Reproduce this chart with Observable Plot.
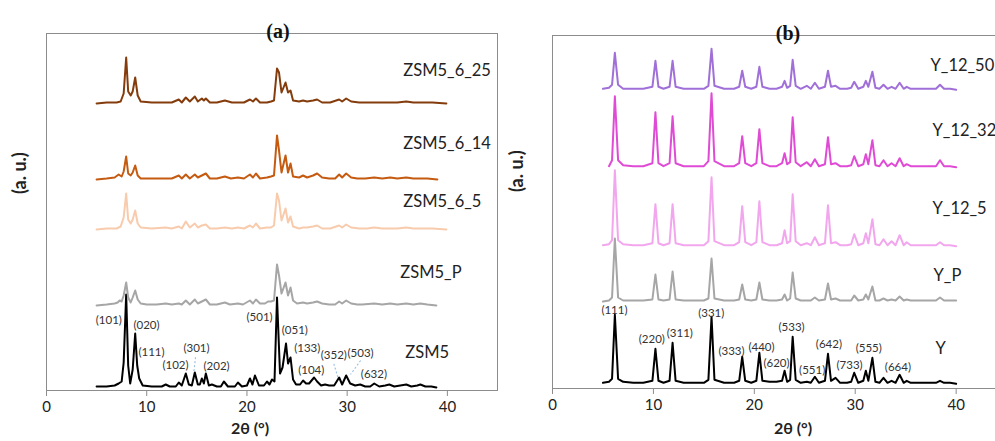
<!DOCTYPE html>
<html><head><meta charset="utf-8">
<script src="https://cdn.jsdelivr.net/npm/d3@7"></script>
<script src="https://cdn.jsdelivr.net/npm/@observablehq/plot@0.6"></script>
<style>
html,body{margin:0;padding:0;background:#fff;}
#wrap{position:relative;width:995px;height:441px;overflow:hidden;background:#fff;}
#wrap svg{position:absolute;top:0;}
</style></head><body><div id="wrap"></div>
<script>
// ---------- Panel (a): ZSM5 family, [2θ, intensity above own baseline] ----------
const zsm5 = [[5.0,1],[6.0,1],[6.8,2],[7.2,4],[7.5,6],[7.7,25],[7.95,93],[8.15,22],[8.35,4],[8.6,18],[8.85,54],[9.05,22],[9.25,9],[9.6,2],[10.5,1],[11.5,1],[11.9,3],[12.3,1],[12.9,1],[13.2,5],[13.5,2],[13.9,14],[14.2,3],[14.5,2],[14.8,15],[15.1,3],[15.3,3],[15.5,9],[15.7,4],[15.9,14],[16.2,2],[16.5,3],[17.0,1],[17.4,1],[17.7,6],[18.1,1],[18.8,1],[19.1,5],[19.5,1],[20.0,2],[20.3,9],[20.55,3],[20.8,12],[21.2,2],[21.7,2],[22.0,6],[22.25,3],[22.5,8],[22.75,6],[23.0,90],[23.3,14],[23.55,20],[23.9,44],[24.1,24],[24.35,30],[24.6,8],[24.9,3],[25.3,3],[25.6,7],[25.9,4],[26.2,4],[26.7,10],[27.0,6],[27.4,2],[27.8,3],[28.2,2],[28.7,2],[29.2,10],[29.5,3],[29.9,12],[30.3,4],[30.8,2],[31.3,3],[31.8,1],[32.3,1],[32.7,4],[33.2,1],[33.8,2],[34.2,3],[34.7,1],[35.3,2],[35.9,3],[36.4,1],[37.0,2],[37.3,3],[37.8,1],[38.4,1],[38.9,0]];
const zsm5P = [[5.0,0],[6.0,1],[6.8,2],[7.1,3],[7.3,5],[7.5,4],[7.7,10],[7.95,23],[8.15,8],[8.4,3],[8.6,8],[8.85,15],[9.1,6],[9.4,2],[10.0,1],[11.0,1],[11.9,2],[12.5,1],[13.2,2],[13.5,1],[13.9,5],[14.3,1],[14.8,6],[15.1,2],[15.5,4],[15.9,6],[16.3,1],[17.0,1],[17.8,3],[18.3,1],[19.1,2],[19.6,1],[20.3,5],[20.6,2],[20.9,6],[21.3,2],[21.8,2],[22.1,4],[22.4,4],[22.7,5],[23.0,41],[23.2,30],[23.45,12],[23.85,23],[24.1,10],[24.35,18],[24.6,5],[25.0,2],[25.6,3],[26.0,2],[26.6,3],[27.0,4],[27.5,2],[28.2,1],[28.8,1],[29.2,4],[29.5,2],[29.9,5],[30.4,2],[31.0,1],[31.5,1],[32.7,2],[33.5,1],[34.3,2],[35.0,1],[35.9,2],[36.6,1],[37.3,2],[38.0,1],[38.9,0]];
const zsm5_6_5 = [[5.0,0],[6.0,1],[7.0,1],[7.4,3],[7.7,12],[7.95,36],[8.15,10],[8.4,6],[8.6,10],[8.85,19],[9.1,6],[9.4,2],[10.5,1],[11.9,2],[12.5,1],[13.2,3],[13.5,1],[13.9,8],[14.3,2],[14.8,6],[15.1,2],[15.5,4],[15.9,5],[16.3,1],[17.0,1],[17.8,2],[18.5,1],[19.1,2],[19.7,1],[20.3,4],[20.6,2],[20.9,6],[21.3,1],[22.0,2],[22.4,2],[22.7,4],[23.0,36],[23.2,29],[23.45,9],[23.85,21],[24.1,7],[24.35,13],[24.6,3],[25.2,1],[25.6,2],[26.0,2],[26.6,3],[27.0,4],[27.5,1],[28.3,1],[29.2,4],[29.5,2],[29.9,5],[30.4,2],[31.2,1],[32.0,1],[32.7,2],[33.5,1],[34.3,1],[35.0,1],[35.9,2],[36.6,1],[37.5,1],[38.5,1],[39.9,0]];
const zsm5_6_14 = [[5.0,0],[6.0,1],[6.8,2],[7.2,5],[7.5,3],[7.7,8],[7.95,23],[8.15,6],[8.4,4],[8.6,7],[8.85,14],[9.1,4],[9.4,1],[10.5,1],[11.9,1],[12.5,1],[13.2,4],[13.5,1],[13.9,5],[14.3,1],[14.8,5],[15.1,2],[15.5,4],[15.9,6],[16.3,1],[17.0,1],[17.8,3],[18.4,1],[19.1,2],[19.7,1],[20.3,5],[20.6,2],[20.9,6],[21.3,1],[22.0,2],[22.4,3],[22.7,4],[23.0,44],[23.2,29],[23.45,7],[23.85,24],[24.1,7],[24.35,16],[24.6,3],[25.2,2],[25.6,4],[26.0,2],[26.6,4],[27.0,6],[27.5,2],[28.2,1],[28.8,1],[29.2,5],[29.5,2],[29.9,6],[30.4,2],[31.0,1],[31.8,1],[32.7,2],[33.5,1],[34.3,2],[35.0,1],[35.9,2],[36.6,1],[37.3,1],[38.0,1],[39.0,0]];
const zsm5_6_25 = [[5.0,0],[6.0,1],[7.0,1],[7.4,2],[7.7,10],[7.95,46],[8.15,12],[8.4,8],[8.6,12],[8.85,26],[9.1,8],[9.4,2],[10.5,1],[11.9,1],[12.5,1],[13.2,4],[13.5,1],[13.9,6],[14.3,2],[14.8,7],[15.1,2],[15.5,5],[15.7,3],[15.9,5],[16.3,1],[17.0,1],[17.8,3],[18.5,1],[19.1,1],[19.7,1],[20.3,4],[20.6,2],[20.9,5],[21.3,1],[22.0,1],[22.4,2],[22.7,3],[23.0,35],[23.2,31],[23.45,11],[23.85,21],[24.1,11],[24.35,13],[24.6,3],[25.2,2],[25.6,3],[26.0,2],[26.6,3],[27.0,4],[27.5,1],[28.3,1],[29.2,4],[29.5,2],[29.9,5],[30.4,2],[31.2,1],[32.0,1],[32.7,1],[33.5,1],[34.3,1],[35.0,1],[35.9,2],[36.6,1],[37.5,1],[38.5,1],[39.9,0]];

const zsmNames   = ["ZSM5", "ZSM5_P", "ZSM5_6_5", "ZSM5_6_14", "ZSM5_6_25"];
const zsmPatterns = [zsm5, zsm5P, zsm5_6_5, zsm5_6_14, zsm5_6_25];
const zsmOffsets = [3, 85, 161, 211, 287];
const zsmColors  = ["#000000", "#a6a6a6", "#f8cbad", "#c55a11", "#843c0c"];
const zsmNameTheta = [35.8, 35.3, 35.6, 35.6, 35.6];
const zsmNameY     = [38, 118, 189, 247, 320];

const zsmHkl      = ["(101)","(020)","(111)","(102)","(301)","(202)","(501)","(051)","(133)","(104)","(352)","(503)","(632)"];
const zsmHklTheta = [6.22, 9.98, 10.48, 12.87, 14.97, 16.97, 21.26, 24.78, 26.02, 26.42, 28.67, 31.34, 32.67];
const zsmHklY     = [70, 65, 37.7, 25, 41.7, 24.3, 73.3, 60, 41.7, 20, 35, 37.3, 16];
// leader lines [θ1, y1, θ2, y2]
const zsmLeaders = [[14.87, 33.3, 14.7, 18.3], [28.67, 26.7, 29.09, 12.7], [31.34, 30, 30.34, 16]];

// ---------- Panel (b): Y family on a shared 2θ grid ----------
const yTheta = [5.0,5.6,5.9,6.18,6.5,7.0,8.0,9.0,9.9,10.2,
  10.5,11.0,11.6,11.9,12.2,13.0,14.0,15.0,15.45,15.76,
  16.05,17.0,18.0,18.5,18.8,19.1,19.7,20.2,20.5,20.8,
  21.5,22.2,22.75,23.0,23.25,23.55,23.8,24.1,24.6,25.2,
  25.6,26.0,26.4,27.0,27.3,27.6,28.05,28.5,29.2,29.6,
  29.9,30.3,30.8,31.05,31.3,31.7,32.0,32.4,32.8,33.2,
  33.6,34.0,34.4,34.8,35.1,35.5,36.3,37.2,38.0,38.4,
  38.8,39.4,40.0];
const yY = [1,2,5,69,5,2,1,1,3,35,
  3,1,3,41,3,1,1,1,4,67,
  4,1,1,3,27,3,1,3,31,3,
  2,2,3,13,2,4,47,4,1,2,
  1,7,1,3,30,3,6,1,1,2,
  11,1,3,13,3,26,2,1,6,1,
  3,1,9,1,3,1,1,1,1,3,
  1,1,0];
const yP = [0,1,4,63,4,1,1,1,2,27,
  2,1,2,30,2,1,1,1,3,43,
  3,1,1,2,17,2,1,2,19,2,
  1,1,2,7,1,3,29,3,1,1,
  1,4,1,2,18,2,3,1,1,1,
  6,1,2,7,2,15,1,1,3,1,
  2,1,5,1,2,1,1,1,1,4,
  1,1,1];
const y12_5 = [1,2,6,76,6,2,1,1,3,42,
  3,1,3,42,3,1,1,1,5,69,
  5,1,1,4,40,4,1,4,45,4,
  1,1,3,16,3,5,52,5,1,3,
  1,9,1,3,41,3,4,1,1,2,
  12,1,3,13,3,27,2,1,7,1,
  5,1,11,1,4,1,1,1,1,4,
  1,1,0];
const y12_32 = [null,1,7,71,7,2,1,1,4,55,
  4,1,4,51,4,1,1,1,6,74,
  6,1,1,4,31,4,1,4,38,4,
  1,1,4,14,3,5,50,5,1,5,
  1,8,1,3,30,3,4,1,1,2,
  11,1,3,13,3,27,2,1,7,1,
  4,1,9,1,3,1,1,1,1,7,
  1,1,0];
const y12_50 = [1,2,5,37,5,1,1,1,3,29,
  3,1,3,29,3,1,1,1,4,41,
  4,1,1,3,19,3,1,3,23,3,
  1,1,3,9,2,4,30,4,1,4,
  1,7,1,3,19,3,4,1,1,2,
  8,1,3,9,3,18,2,1,5,1,
  3,1,7,1,3,1,1,1,1,5,
  1,1,0];

const yNames    = ["Y", "Y_P", "Y_12_5", "Y_12_32", "Y_12_50"];
const yPatterns = [yY, yP, y12_5, y12_32, y12_50];
const yOffsets  = [4.7, 87, 142.3, 221.3, 298.7];
const yColors   = ["#000000", "#a6a6a6", "#f2a6ee", "#e04bd6", "#a070d8"];
const yNameTheta = [37.96, 37.76, 37.66, 37.66, 37.46];
const yNameY     = [40, 113, 180, 258, 323];

const yHkl      = ["(111)","(220)","(311)","(331)","(333)","(440)","(620)","(533)","(551)","(642)","(733)","(555)","(664)"];
const yHklTheta = [6.14, 9.84, 12.62, 15.73, 17.74, 20.71, 22.2, 23.69, 25.73, 27.39, 29.44, 31.34, 34.23];
const yHklY     = [78, 48.7, 54.7, 75.3, 37.3, 41.3, 25.3, 60.7, 18, 44, 23, 39.7, 21.3];

const xTicks = [0, 10, 20, 30, 40];

// ---------- build ----------
const FONT = "Lato, 'Open Sans', sans-serif";

function panel({names, colors, offsets, rowsFor, nameTheta, nameY, hkl, hklTheta, hklY, leaders,
                title, width, mLeft, mRight, mTop, mBottom, xMax, yMax, titleDx, xLabelDx, yLabelDy}) {
  const marks = [];
  names.forEach((n, i) => {
    const rows = rowsFor(i).map(([t, v]) => ({t, v: v == null ? null : v + offsets[i]}));
    marks.push(Plot.line(rows, {x: "t", y: "v", stroke: colors[i], strokeWidth: 2, strokeLinejoin: "round"}));
  });
  marks.push(Plot.frame({stroke: "#8c8c8c", strokeWidth: 1}));
  marks.push(Plot.axisX({ticks: xTicks, tickSize: 6, stroke: "#8c8c8c", fontSize: 15, tickPadding: 5, label: null, fill: "#222"}));
  if (leaders) {
    marks.push(Plot.link(leaders, {x1: d => d[0], y1: d => d[1], x2: d => d[2], y2: d => d[3],
      stroke: "#9dc3e6", strokeWidth: 1.2, strokeDasharray: "2,2"}));
  }
  marks.push(Plot.text(hkl, {x: (d, i) => hklTheta[i], y: (d, i) => hklY[i], text: d => d,
    fontSize: 11.5, fill: "#333", fontFamily: FONT}));
  marks.push(Plot.text(names, {x: (d, i) => nameTheta[i], y: (d, i) => nameY[i], text: d => d,
    textAnchor: "start", fontSize: 16.5, fill: "#222", fontFamily: FONT}));
  marks.push(Plot.text([title], {frameAnchor: "top", dx: titleDx, dy: -10, fontSize: "20px", fontWeight: "bold",
    fontFamily: "'Liberation Serif', 'DejaVu Serif', serif", fill: "#111"}));
  marks.push(Plot.text(["2θ (°)"], {frameAnchor: "bottom", dx: xLabelDx, dy: mBottom - 8, fontSize: "16px", fontWeight: "bold",
    fontFamily: FONT, fill: "#222"}));
  marks.push(Plot.text(["(a. u.)"], {frameAnchor: "left", dx: -(mLeft - 20), dy: yLabelDy, rotate: -90, fontSize: "18px",
    fontWeight: "bold", fontFamily: FONT, fill: "#222"}));
  return Plot.plot({
    width, height: 441,
    marginLeft: mLeft, marginRight: mRight, marginTop: mTop, marginBottom: mBottom,
    x: {domain: [0, xMax]},
    y: {domain: [0, yMax], axis: null},
    style: {fontFamily: FONT, background: "transparent", overflow: "visible"},
    marks
  });
}

const wrap = document.getElementById("wrap");

const a = panel({
  names: zsmNames, colors: zsmColors, offsets: zsmOffsets,
  rowsFor: i => zsmPatterns[i],
  nameTheta: zsmNameTheta, nameY: zsmNameY,
  hkl: zsmHkl, hklTheta: zsmHklTheta, hklY: zsmHklY, leaders: zsmLeaders,
  title: "(a)", width: 498, mLeft: 46, mRight: 1, mTop: 33, mBottom: 51, xMax: 45, yMax: 357,
  titleDx: 6, xLabelDx: -22, yLabelDy: -18
});
a.style.left = "0px";
wrap.appendChild(a);

const b = panel({
  names: yNames, colors: yColors, offsets: yOffsets,
  rowsFor: i => yTheta.map((t, k) => [t, yPatterns[i][k]]),
  nameTheta: yNameTheta, nameY: yNameY,
  hkl: yHkl, hklTheta: yHklTheta, hklY: yHklY, leaders: null,
  title: "(b)", width: 498, mLeft: 55, mRight: 0, mTop: 35, mBottom: 53, xMax: 43.9, yMax: 353,
  titleDx: 14, xLabelDx: 19, yLabelDy: -20
});
b.style.left = "497px";
wrap.appendChild(b);
</script></body></html>
